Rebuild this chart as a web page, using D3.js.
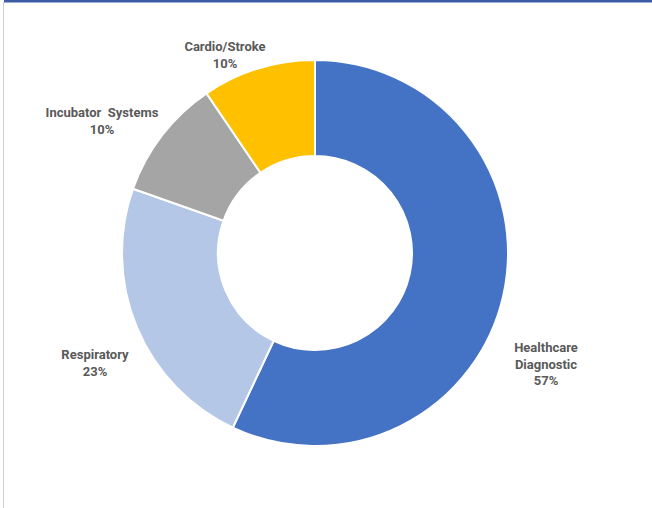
<!DOCTYPE html>
<html>
<head>
<meta charset="utf-8">
<script src="https://cdn.jsdelivr.net/npm/d3@7"></script>
<style>
  html, body { margin: 0; padding: 0; background: #fff; }
  svg { display: block; }
  .lbl { font-family: Roboto, "Noto Sans", sans-serif; font-weight: bold; font-size: 13px; fill: #595959; white-space: pre; }
</style>
</head>
<body>
<script>
// Market share by application segment (percent)
const categories = ["Healthcare Diagnostic", "Respiratory", "Incubator  Systems", "Cardio/Stroke"];
const shares = [57.0, 23.4, 10.1, 9.5];
const colors = ["#4472c4", "#b4c7e7", "#a5a5a5", "#ffc000"];
// Name lines for each label (percentage appended below) and anchor positions
const nameLines = [["Healthcare", "Diagnostic"], ["Respiratory"], ["Incubator  Systems"], ["Cardio/Stroke"]];
const labelPos = [[546, 352], [95, 359], [102, 117], [225, 51]];

const W = 652, H = 508;
const svg = d3.select("body").append("svg").attr("width", W).attr("height", H);

// frame: blue top rule and grey left rule
svg.append("rect").attr("x", 4).attr("y", 0).attr("width", W - 4).attr("height", 2.5).attr("fill", "#3b5ba5");
svg.append("rect").attr("x", 3).attr("y", 2).attr("width", 1).attr("height", H - 2).attr("fill", "#d0d0d0");

const cx = 315, cy = 253, rOuter = 193, rInner = 97;
const pie = d3.pie().sort(null).value(d => d)(shares);
const arc = d3.arc().innerRadius(rInner).outerRadius(rOuter);

const g = svg.append("g").attr("transform", `translate(${cx},${cy})`);
g.selectAll("path").data(pie).join("path")
  .attr("d", arc)
  .attr("fill", (d, i) => colors[i])
  .attr("stroke", "#fff")
  .attr("stroke-width", 2);

categories.forEach((c, i) => {
  const lines = nameLines[i].concat([Math.round(shares[i]) + "%"]);
  const t = svg.append("text").attr("class", "lbl").attr("text-anchor", "middle")
    .attr("x", labelPos[i][0]).attr("y", labelPos[i][1]);
  lines.forEach((line, j) => {
    t.append("tspan").attr("x", labelPos[i][0]).attr("dy", j === 0 ? 0 : 16.5).text(line);
  });
});
</script>
</body>
</html>
